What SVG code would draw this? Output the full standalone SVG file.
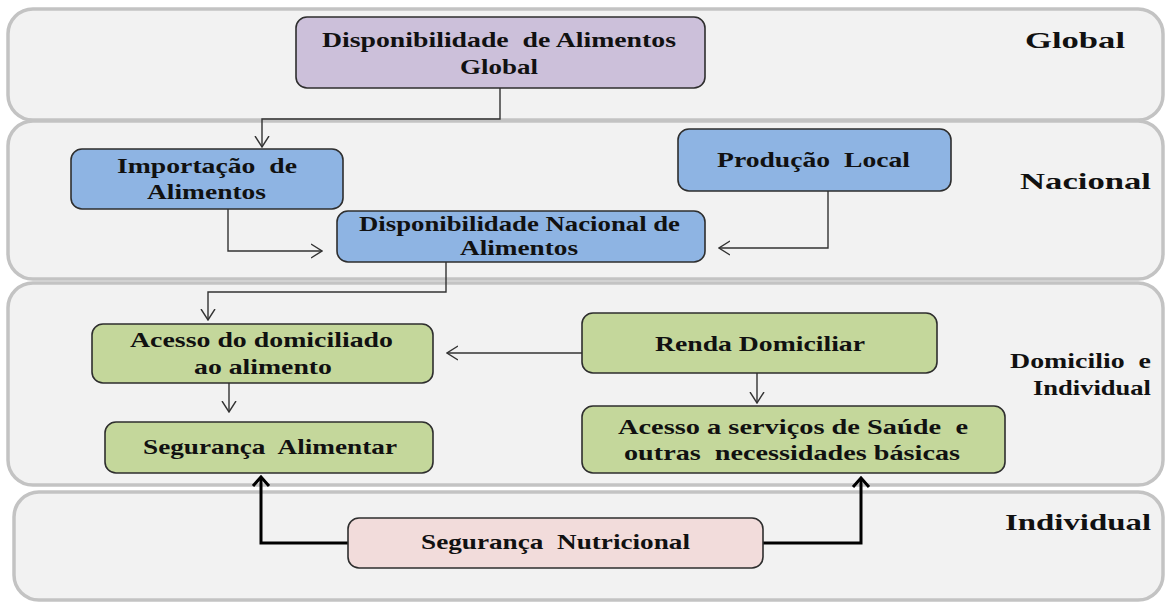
<svg xmlns="http://www.w3.org/2000/svg" width="1167" height="603" viewBox="0 0 1167 603">
<style>
.band{fill:#f2f2f2;stroke:#c3c3c3;stroke-width:3.5}
.node{stroke:#2e2e2e;stroke-width:1.6}
.t{font-family:"Liberation Serif","Times New Roman",serif;font-weight:bold;font-size:22px;fill:#111;white-space:pre}
.lbl{font-family:"Liberation Serif","Times New Roman",serif;font-weight:bold;font-size:24px;fill:#111;white-space:pre}
.c{fill:none;stroke:#333;stroke-width:1.4}
.ck{fill:none;stroke:#000;stroke-width:3}
</style>
<defs>
<marker id="a" markerUnits="userSpaceOnUse" viewBox="0 0 12 16" markerWidth="12" markerHeight="16" refX="11" refY="8" orient="auto">
<path d="M0,1 L11,8 L0,15" fill="none" stroke="#333" stroke-width="1.4"/>
</marker>
<marker id="ak" markerUnits="userSpaceOnUse" viewBox="0 0 12 20" markerWidth="12" markerHeight="20" refX="10" refY="10" orient="auto">
<path d="M1,2 L10,10 L1,18" fill="none" stroke="#000" stroke-width="3"/>
</marker>
</defs>

<g id="bands">
<rect class="band" x="8" y="9" width="1155" height="111" rx="25"/>
<rect class="band" x="8" y="121" width="1155" height="158" rx="25"/>
<rect class="band" x="8" y="283" width="1155" height="202" rx="25"/>
<rect class="band" x="14" y="492" width="1149" height="108" rx="25"/>
</g>

<g id="labels">
<text class="lbl" x="1025" y="48" textLength="100" lengthAdjust="spacingAndGlyphs">Global</text>
<text class="lbl" x="1020" y="189" textLength="131" lengthAdjust="spacingAndGlyphs">Nacional</text>
<text class="t" x="1010" y="368" textLength="141" lengthAdjust="spacingAndGlyphs">Domicilio  e</text>
<text class="t" x="1033" y="395" textLength="118" lengthAdjust="spacingAndGlyphs">Individual</text>
<text class="lbl" x="1005" y="530" textLength="146" lengthAdjust="spacingAndGlyphs">Individual</text>
</g>

<g id="connectors">
<path class="c" d="M500,88 V119 H262 V147" marker-end="url(#a)"/>
<path class="c" d="M228,209 V251 H322" marker-end="url(#a)"/>
<path class="c" d="M828,191 V248 H719" marker-end="url(#a)"/>
<path class="c" d="M446,262 V292 H208 V320" marker-end="url(#a)"/>
<path class="c" d="M582,353 H447" marker-end="url(#a)"/>
<path class="c" d="M229,383 V412" marker-end="url(#a)"/>
<path class="c" d="M757,373 V403" marker-end="url(#a)"/>
<path class="ck" d="M348,543 H261 V477" marker-end="url(#ak)"/>
<path class="ck" d="M763,543 H861 V478" marker-end="url(#ak)"/>
</g>

<g id="n-global">
<rect class="node" x="296" y="17" width="409" height="71" rx="11" fill="#ccc0da"/>
<text class="t" x="322" y="47" textLength="354" lengthAdjust="spacingAndGlyphs">Disponibilidade  de Alimentos</text>
<text class="t" x="460" y="74" textLength="78" lengthAdjust="spacingAndGlyphs">Global</text>
</g>

<g id="n-importacao">
<rect class="node" x="71" y="149" width="272" height="60" rx="11" fill="#8eb4e3"/>
<text class="t" x="117" y="173" textLength="180" lengthAdjust="spacingAndGlyphs">Importação  de</text>
<text class="t" x="147" y="199" textLength="119" lengthAdjust="spacingAndGlyphs">Alimentos</text>
</g>

<g id="n-producao">
<rect class="node" x="678" y="129" width="273" height="62" rx="11" fill="#8eb4e3"/>
<text class="t" x="717" y="167" textLength="193" lengthAdjust="spacingAndGlyphs">Produção  Local</text>
</g>

<g id="n-nacional">
<rect class="node" x="337" y="211" width="368" height="51" rx="11" fill="#8eb4e3"/>
<text class="t" x="359" y="231" textLength="321" lengthAdjust="spacingAndGlyphs">Disponibilidade Nacional de</text>
<text class="t" x="460" y="255" textLength="118" lengthAdjust="spacingAndGlyphs">Alimentos</text>
</g>

<g id="n-acesso">
<rect class="node" x="92" y="324" width="341" height="59" rx="11" fill="#c4d79b"/>
<text class="t" x="130" y="347" textLength="263" lengthAdjust="spacingAndGlyphs">Acesso do domiciliado</text>
<text class="t" x="194" y="374" textLength="138" lengthAdjust="spacingAndGlyphs">ao alimento</text>
</g>

<g id="n-renda">
<rect class="node" x="582" y="313" width="355" height="60" rx="11" fill="#c4d79b"/>
<text class="t" x="655" y="351" textLength="210" lengthAdjust="spacingAndGlyphs">Renda Domiciliar</text>
</g>

<g id="n-seg-alimentar">
<rect class="node" x="105" y="422" width="328" height="51" rx="11" fill="#c4d79b"/>
<text class="t" x="143" y="454" textLength="254" lengthAdjust="spacingAndGlyphs">Segurança  Alimentar</text>
</g>

<g id="n-servicos">
<rect class="node" x="582" y="406" width="423" height="67" rx="11" fill="#c4d79b"/>
<text class="t" x="618" y="434" textLength="350" lengthAdjust="spacingAndGlyphs">Acesso a serviços de Saúde  e</text>
<text class="t" x="624" y="460" textLength="336" lengthAdjust="spacingAndGlyphs">outras  necessidades básicas</text>
</g>

<g id="n-nutricional">
<rect class="node" x="348" y="518" width="415" height="50" rx="11" fill="#f2dcdb"/>
<text class="t" x="421" y="549" textLength="269" lengthAdjust="spacingAndGlyphs">Segurança  Nutricional</text>
</g>
</svg>
